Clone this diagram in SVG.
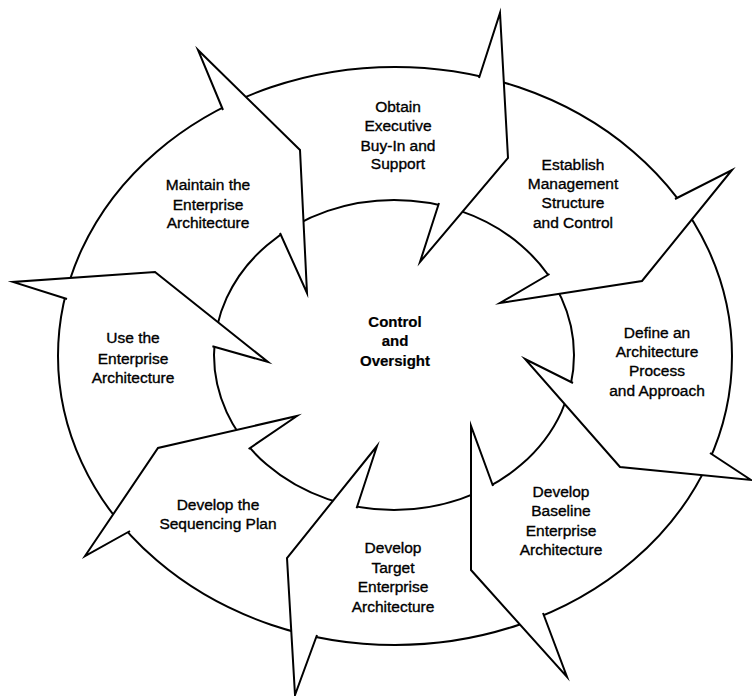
<svg xmlns="http://www.w3.org/2000/svg" width="752" height="696" viewBox="0 0 752 696">
<style>
.ring{fill:none;stroke:#000;stroke-width:2}
.mask{fill:#fff;stroke:none}
.arrow{fill:none;stroke:#000;stroke-width:2;stroke-linejoin:miter;stroke-miterlimit:20}
text{font-family:"Liberation Sans",Arial,sans-serif;font-size:15.5px;fill:#000;stroke:#000;stroke-width:0.35;text-anchor:middle}
.center{font-weight:bold;font-size:15px;stroke-width:0.2}
</style>
<rect width="752" height="696" fill="#fff"/>
<g id="ring">
<ellipse class="ring" cx="395" cy="356" rx="337" ry="289"/>
<ellipse class="ring" cx="394" cy="355" rx="180" ry="155"/>
</g>
<g id="connectors">
<polygon class="mask" points="223,110 198,50 300,150 307,293 280,233"/>
<polyline class="arrow" points="223,110 198,50 300,150 307,293 280,233"/>
<polygon class="mask" points="479,78 500,13 508,158 420,262 439,203"/>
<polyline class="arrow" points="479,78 500,13 508,158 420,262 439,203"/>
<polygon class="mask" points="675,199 732,170 642,281 500,303 549.5,274"/>
<polyline class="arrow" points="675,199 732,170 642,281 500,303 549.5,274"/>
<polygon class="mask" points="710,453 751,480 620,467 525,359 573,383"/>
<polyline class="arrow" points="710,453 751,480 620,467 525,359 573,383"/>
<polygon class="mask" points="543,613 567,677 471,570 471,426 493,486"/>
<polyline class="arrow" points="543,613 567,677 471,570 471,426 493,486"/>
<polygon class="mask" points="317,635 295,695 287,558 377,446 356.6,508.2"/>
<polyline class="arrow" points="317,635 295,695 287,558 377,446 356.6,508.2"/>
<polygon class="mask" points="130,531 85,556 158,448 297,416 248.6,449"/>
<polyline class="arrow" points="130,531 85,556 158,448 297,416 248.6,449"/>
<polygon class="mask" points="67,299 13,282 155,272 268,362 212.4,346.3"/>
<polyline class="arrow" points="67,299 13,282 155,272 268,362 212.4,346.3"/>
</g>
<g id="center">
<text class="center" x="395" y="327">Control</text>
<text class="center" x="395" y="346">and</text>
<text class="center" x="395" y="366">Oversight</text>
</g>
<g id="obtain">
<text x="398" y="112">Obtain</text>
<text x="398" y="131">Executive</text>
<text x="398" y="151">Buy-In and</text>
<text x="398" y="169">Support</text>
</g>
<g id="establish">
<text x="573" y="170">Establish</text>
<text x="573" y="189">Management</text>
<text x="573" y="208">Structure</text>
<text x="573" y="228">and Control</text>
</g>
<g id="define">
<text x="657" y="338">Define an</text>
<text x="657" y="357">Architecture</text>
<text x="657" y="376">Process</text>
<text x="657" y="396">and Approach</text>
</g>
<g id="baseline">
<text x="561" y="497">Develop</text>
<text x="561" y="516">Baseline</text>
<text x="561" y="536">Enterprise</text>
<text x="561" y="555">Architecture</text>
</g>
<g id="target">
<text x="393" y="553">Develop</text>
<text x="393" y="573">Target</text>
<text x="393" y="592">Enterprise</text>
<text x="393" y="612">Architecture</text>
</g>
<g id="sequencing">
<text x="218" y="510">Develop the</text>
<text x="218" y="529">Sequencing Plan</text>
</g>
<g id="use">
<text x="133" y="343">Use the</text>
<text x="133" y="364">Enterprise</text>
<text x="133" y="383">Architecture</text>
</g>
<g id="maintain">
<text x="208" y="190">Maintain the</text>
<text x="208" y="210">Enterprise</text>
<text x="208" y="228">Architecture</text>
</g>
</svg>
